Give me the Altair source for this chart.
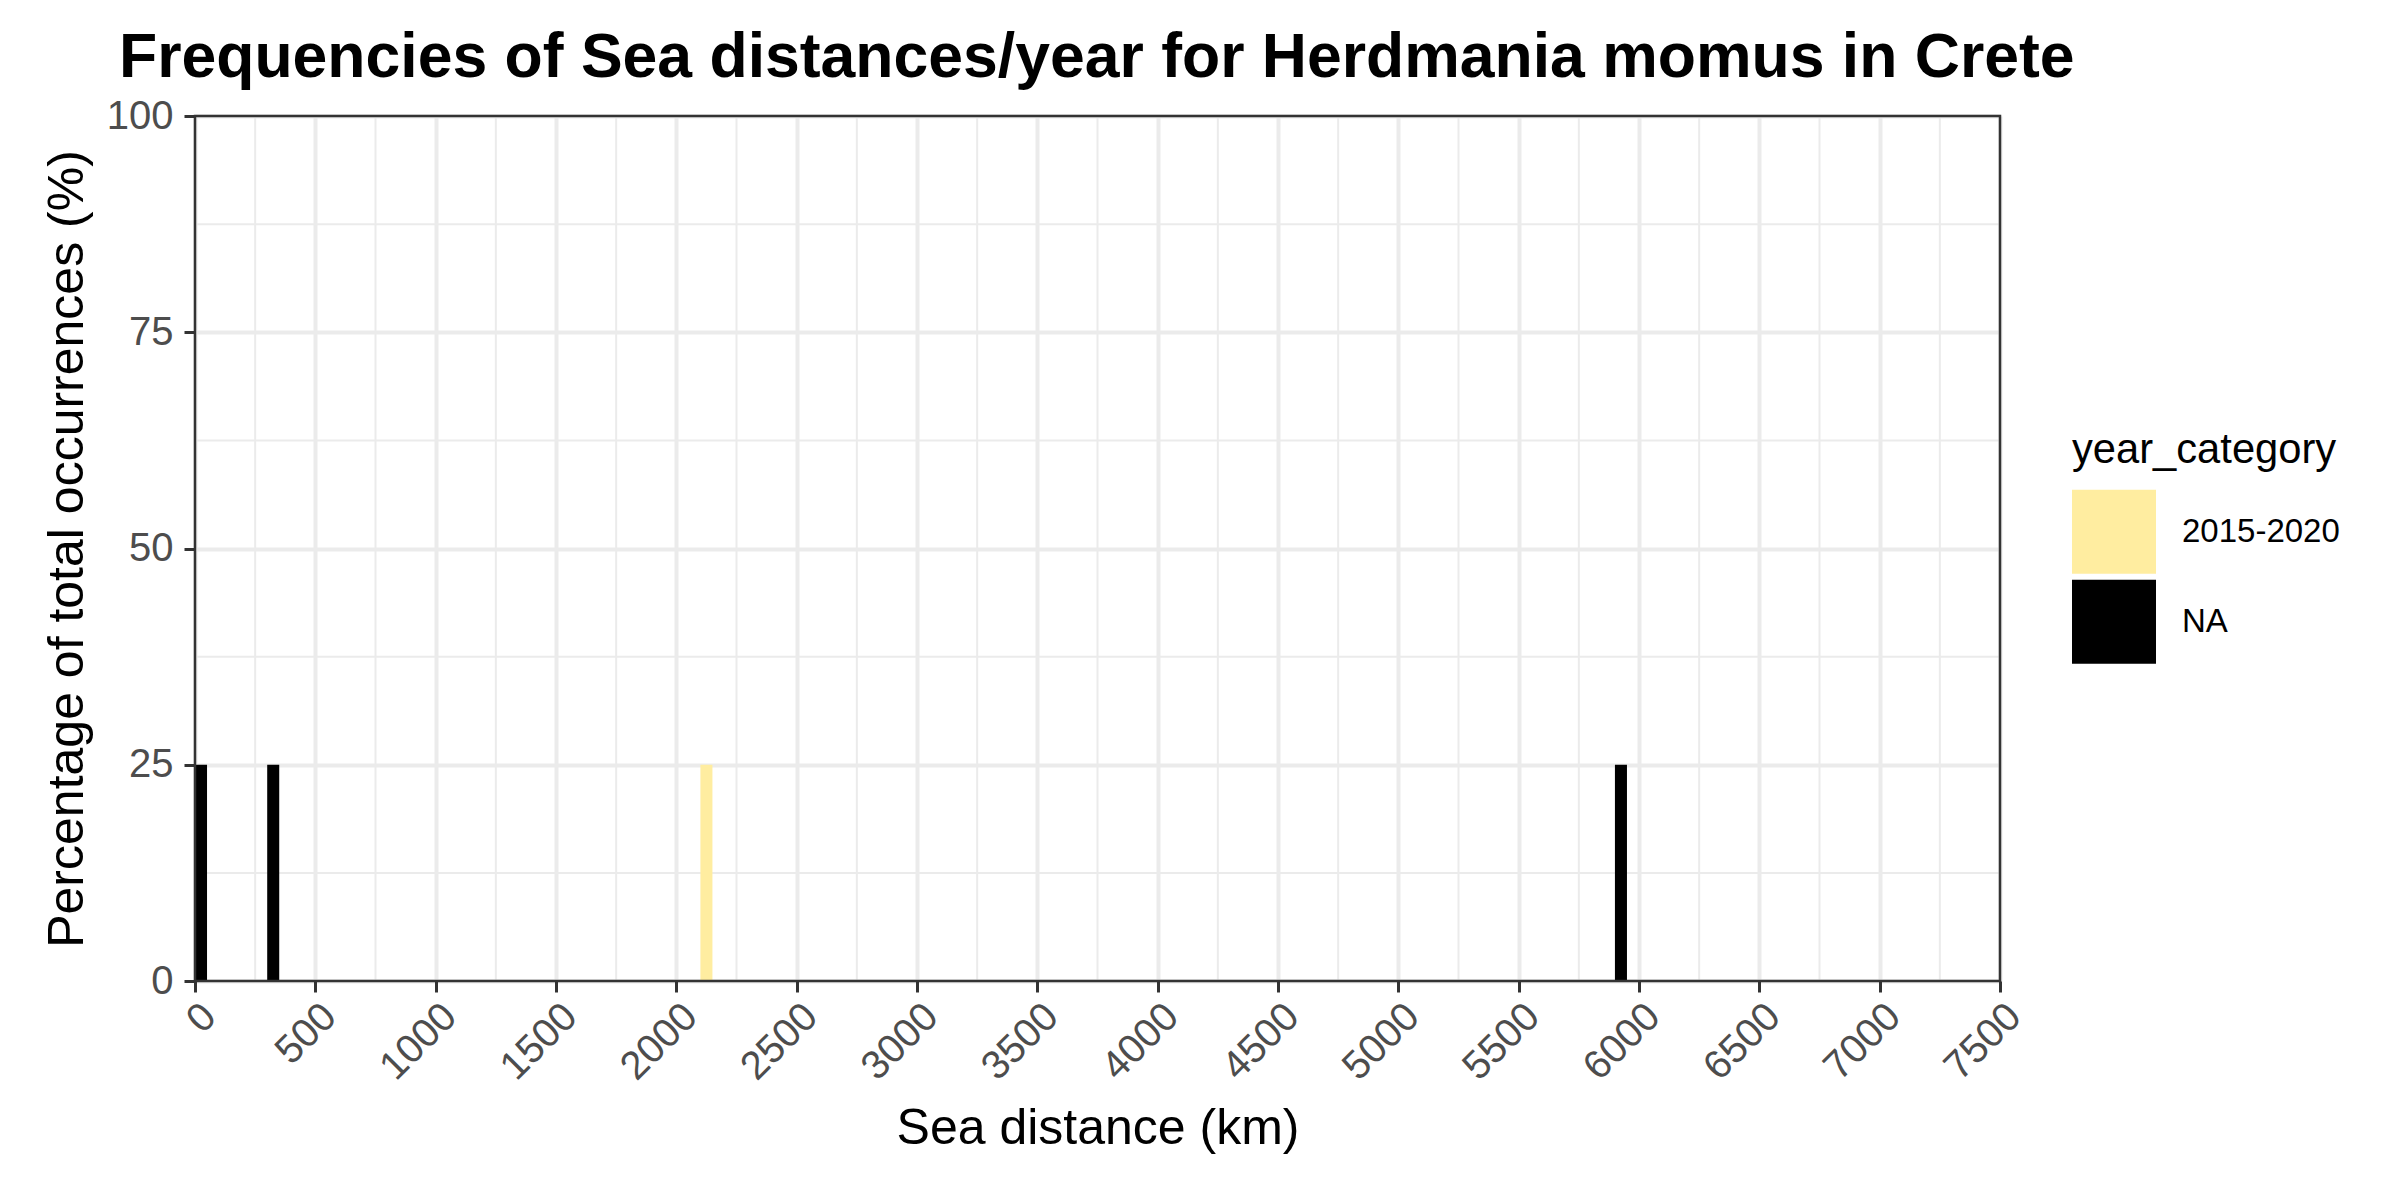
import altair as alt
import pandas as pd

# ---- data ----
bin_start = [0, 300, 2100, 5900]
bin_end = [50, 350, 2150, 5950]
percent = [25, 25, 25, 25]
year_category = ["NA", "NA", "2015-2020", "NA"]

category_order = ["2015-2020", "NA"]
category_colors = ["#FFEDA0", "#000000"]

x_ticks = [0, 500, 1000, 1500, 2000, 2500, 3000, 3500, 4000, 4500, 5000,
           5500, 6000, 6500, 7000, 7500]
y_ticks = [0, 25, 50, 75, 100]
x_minor = [250, 750, 1250, 1750, 2250, 2750, 3250, 3750, 4250, 4750, 5250,
           5750, 6250, 6750, 7250]
y_minor = [12.5, 37.5, 62.5, 87.5]

FONT = "Liberation Sans"
GRID = "#EBEBEB"

df = pd.DataFrame({"start": bin_start, "end": bin_end, "pct": percent,
                   "year_category": year_category})

xscale = alt.Scale(domain=[x_ticks[0], x_ticks[-1]], nice=False, zero=False)
yscale = alt.Scale(domain=[y_ticks[0], y_ticks[-1]], nice=False)

minor_v = alt.Chart(pd.DataFrame({"mx": x_minor})).mark_rule(
    color=GRID, strokeWidth=2
).encode(x=alt.X("mx:Q", scale=xscale))

minor_h = alt.Chart(pd.DataFrame({"my": y_minor})).mark_rule(
    color=GRID, strokeWidth=2
).encode(y=alt.Y("my:Q", scale=yscale))

bars = alt.Chart(df).mark_bar(strokeWidth=0).encode(
    x=alt.X("start:Q", scale=xscale,
            axis=alt.Axis(values=x_ticks, format="d", title="Sea distance (km)",
                          labelAngle=-45, labelAlign="right", labelBaseline="top",
                          labelPadding=4, titleY=162, titleBaseline="alphabetic")),
    x2="end:Q",
    y=alt.Y("pct:Q", scale=yscale,
            axis=alt.Axis(values=y_ticks, title="Percentage of total occurrences (%)",
                          labelPadding=11, titleX=-113, titleY=432.5,
                          titleBaseline="alphabetic", titleAngle=-90,
                          titleAlign="center")),
    y2=alt.datum(0),
    color=alt.Color("year_category:N",
                    scale=alt.Scale(domain=category_order, range=category_colors),
                    legend=alt.Legend(title="year_category", orient="none",
                                      legendX=1877, legendY=314,
                                      symbolType="square", symbolSize=7056,
                                      symbolStrokeWidth=0, symbolOpacity=1,
                                      labelFontSize=33, titleFontSize=41.7,
                                      titleFontWeight="normal", titlePadding=18,
                                      labelOffset=26, rowPadding=6, padding=0,
                                      titleLimit=1000, labelLimit=1000,
                                      labelColor="black", titleColor="black",
                                      labelFont=FONT, titleFont=FONT)),
)

# panel border drawn on top, spanning the full scale domains
border = alt.Chart(pd.DataFrame({"k": [0]})).mark_rect(
    fillOpacity=0, stroke="#333333", strokeWidth=2.5
).encode(
    x=alt.datum(x_ticks[0]), x2=alt.datum(x_ticks[-1]),
    y=alt.datum(y_ticks[0]), y2=alt.datum(y_ticks[-1]),
)

chart = alt.layer(minor_v, minor_h, bars, border).properties(
    width=1805, height=865,
    background="white",
    autosize=alt.AutoSizeParams(type="none"),
    padding={"left": 195, "top": 116, "right": 400, "bottom": 219},
    title=alt.TitleParams(
        "Frequencies of Sea distances/year for Herdmania momus in Crete",
        fontSize=62.5, fontWeight="bold", font=FONT, color="black",
        anchor="start", frame="group", dx=-76, offset=6),
).configure_view(
    stroke="transparent", strokeWidth=0
).configure_axis(
    domain=False, grid=True, gridColor=GRID, gridWidth=4,
    tickColor="#333333", tickWidth=3, tickSize=11,
    labelFont=FONT, labelFontSize=40, labelColor="#4D4D4D",
    titleFont=FONT, titleFontSize=50, titleFontWeight="normal", titleColor="black",
)

chart.save("out.html", embed_options={"renderer": "svg", "actions": False})
